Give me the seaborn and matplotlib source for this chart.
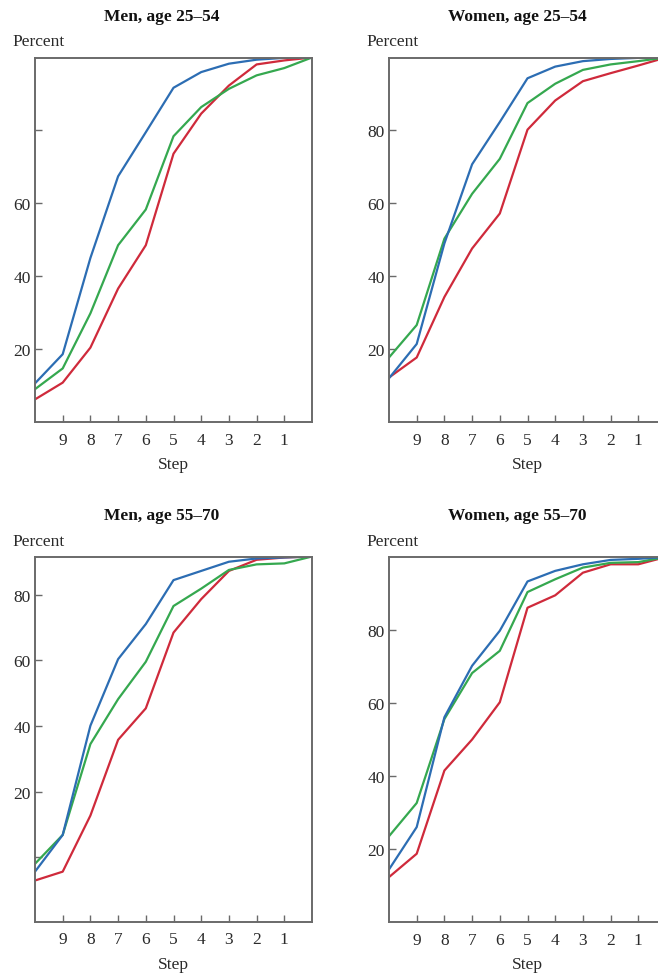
import matplotlib
matplotlib.use("Agg")
import matplotlib.pyplot as plt
import seaborn as sns
import pandas as pd

# ---------------- data ----------------
steps = [10, 9, 8, 7, 6, 5, 4, 3, 2, 1, 0]
step_ticks = [9, 8, 7, 6, 5, 4, 3, 2, 1]
series_names = ["blue", "green", "red"]

titles = ["Men, age 25\u201354", "Women, age 25\u201354",
          "Men, age 55\u201370", "Women, age 55\u201370"]

men_25_54_blue = [10.6, 18.6, 45.0, 67.4, 79.5, 91.7, 96.0, 98.3, 99.4, 99.9, 100]
men_25_54_green = [9.0, 14.7, 29.8, 48.5, 58.3, 78.4, 86.4, 91.4, 95.1, 97.1, 100]
men_25_54_red = [6.2, 10.8, 20.4, 36.6, 48.5, 73.6, 84.6, 92.3, 98.1, 99.2, 100]

women_25_54_blue = [12.0, 21.4, 49.0, 70.7, 82.3, 94.3, 97.5, 99.0, 99.6, 99.9, 100]
women_25_54_green = [17.7, 26.6, 50.3, 62.6, 72.2, 87.5, 92.8, 96.6, 98.1, 99.0, 100]
women_25_54_red = [12.2, 17.7, 34.3, 47.6, 57.2, 80.2, 88.2, 93.5, 95.7, 97.8, 100]

men_55_70_blue = [-4.4, 6.8, 40.1, 60.4, 71.1, 84.5, 87.3, 90.1, 91.1, 91.4, 91.7]
men_55_70_green = [-2.0, 6.8, 34.5, 48.2, 59.6, 76.6, 81.9, 87.6, 89.3, 89.6, 91.7]
men_55_70_red = [-7.1, -4.4, 12.7, 35.8, 45.4, 68.5, 78.7, 87.3, 90.7, 91.4, 91.7]

women_55_70_blue = [14.4, 26.0, 56.1, 70.2, 79.8, 93.3, 96.2, 98.0, 99.2, 99.5, 100]
women_55_70_green = [23.5, 32.6, 55.6, 68.2, 74.3, 90.4, 93.9, 97.1, 98.4, 98.6, 100]
women_55_70_red = [12.3, 18.7, 41.5, 50.0, 60.2, 86.1, 89.5, 95.7, 98.0, 98.0, 100]

panel_series = [
    [men_25_54_blue, men_25_54_green, men_25_54_red],
    [women_25_54_blue, women_25_54_green, women_25_54_red],
    [men_55_70_blue, men_55_70_green, men_55_70_red],
    [women_55_70_blue, women_55_70_green, women_55_70_red],
]

ytick_values = [
    [20, 40, 60, 80],
    [20, 40, 60, 80],
    [0, 20, 40, 60, 80],
    [20, 40, 60, 80],
]
ytick_labels = [
    ["20", "40", "60", ""],
    ["20", "40", "60", "80"],
    ["", "20", "40", "60", "80"],
    ["20", "40", "60", "80"],
]
ylims = [(0, 100), (0, 100), (-19.6, 91.7), (0, 100)]

# ---------------- style ----------------
sns.set_style("white")
plt.rcParams["font.family"] = ["Liberation Serif", "DejaVu Serif"]

palette = {"blue": "#2c6db3", "green": "#35a84f", "red": "#cf2a3b"}
draw_order = ["red", "green", "blue"]

W, H = 658, 978
fig = plt.figure(figsize=(W / 100, H / 100), dpi=100)

# axes boxes in pixels: left, top, width, height
boxes = [
    (35, 58.5, 277, 364.5),
    (389, 58.5, 277, 364.5),
    (35, 557.5, 277, 365),
    (389, 558, 277, 365),
]

spine_color = "#6a6a6a"
text_color = "#2a2a2a"

for i, (l, t, w, h) in enumerate(boxes):
    ax = fig.add_axes([l / W, 1 - (t + h) / H, w / W, h / H])
    rows = []
    for name, vals in zip(series_names, panel_series[i]):
        for s, v in zip(steps, vals):
            rows.append({"step": s, "percent": v, "series": name})
    df = pd.DataFrame(rows)
    sns.lineplot(data=df, x="step", y="percent", hue="series",
                 hue_order=draw_order, palette=palette, linewidth=1.6,
                 legend=False, ax=ax, sort=False)
    ax.set_xlim(10, 0)
    ax.set_ylim(*ylims[i])
    ax.set_xticks(step_ticks)
    ax.set_xticklabels([str(s) for s in step_ticks])
    ax.set_yticks(ytick_values[i])
    ax.set_yticklabels(ytick_labels[i])
    ax.tick_params(axis="both", direction="in", length=5, width=1.0,
                   color=spine_color, labelsize=12.5, labelcolor=text_color)
    ax.tick_params(axis="x", pad=7)
    ax.tick_params(axis="y", pad=3)
    ax.tick_params(left=True, bottom=True)
    for sp in ax.spines.values():
        sp.set_color(spine_color)
        sp.set_linewidth(1.4)
    ax.set_xlabel("Step", fontsize=12.5, color=text_color, labelpad=6)
    ax.set_ylabel("")
    ax.text((162 - l) / w if i % 2 == 0 else (517 - l) / w, 1 + 42 / h,
            titles[i], transform=ax.transAxes, ha="center", va="center",
            fontsize=12.5, fontweight="bold", color="#111111")
    ax.text(-23 / w, 1 + 16 / h, "Percent", transform=ax.transAxes,
            ha="left", va="center", fontsize=12.5, color=text_color)

fig.savefig("out.png", dpi=100)
